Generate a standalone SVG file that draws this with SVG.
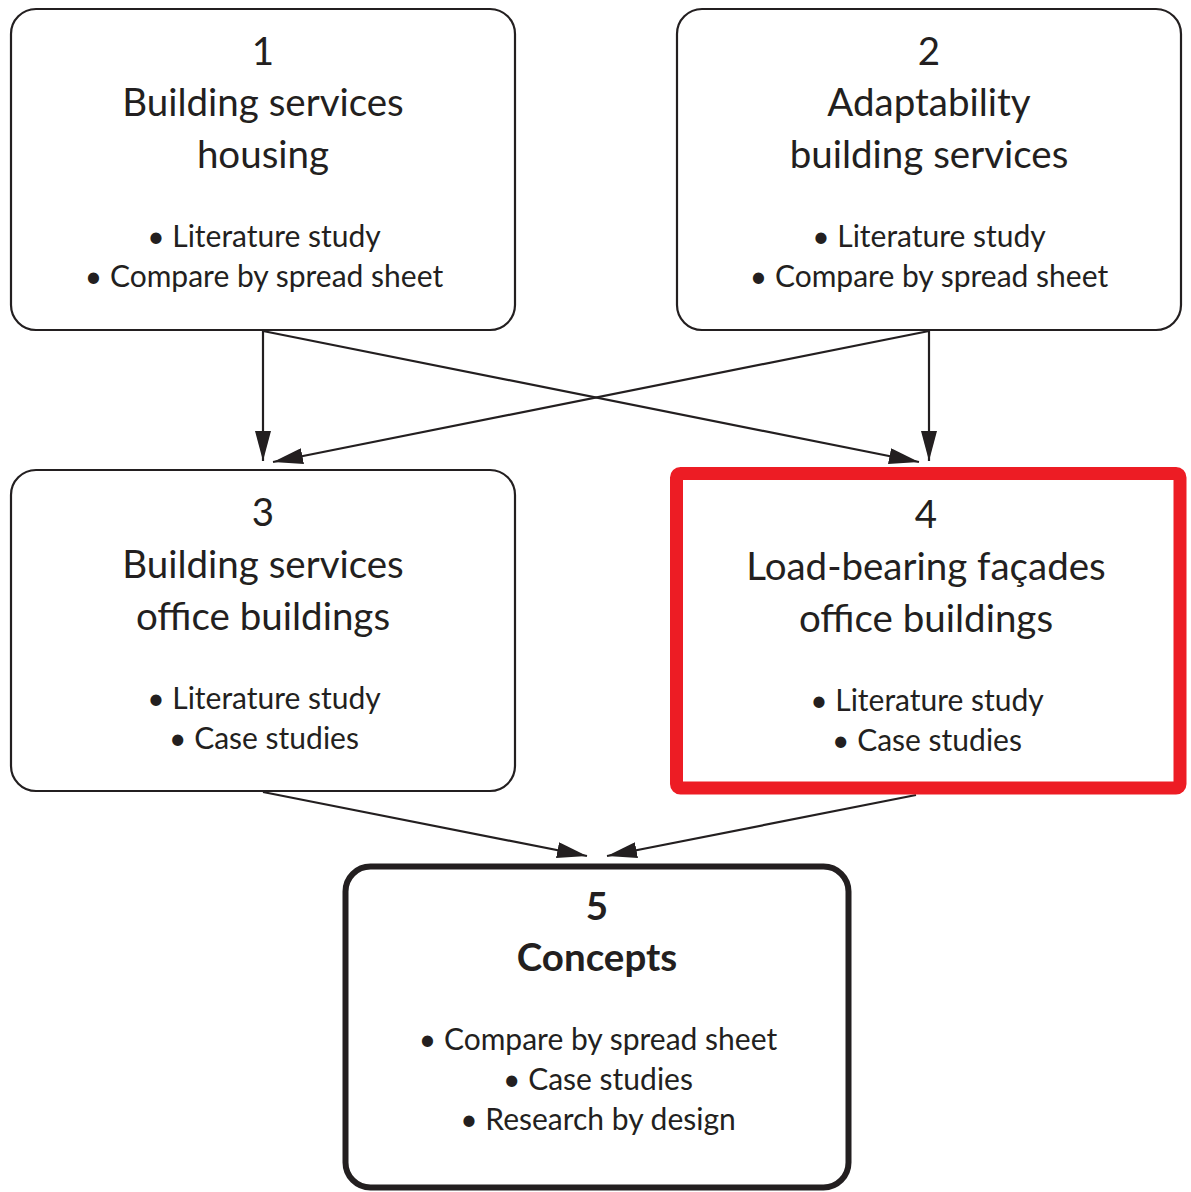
<svg xmlns="http://www.w3.org/2000/svg" width="1191" height="1192" viewBox="0 0 1191 1192">
<style>
.box{fill:#fff;stroke:#231f20;stroke-width:2.2}
.t{font-family:Lato,"Open Sans",sans-serif;font-size:38.5px;fill:#231f20;text-anchor:middle}
.b{font-family:Lato,"Open Sans",sans-serif;font-size:30px;fill:#231f20;text-anchor:middle}
.bold{font-weight:bold}
.c{stroke:#231f20;stroke-width:2.2;fill:none}
</style>
<defs>
<marker id="ah" viewBox="0 0 30 16" refX="30" refY="8" markerWidth="30" markerHeight="16" markerUnits="userSpaceOnUse" orient="auto">
<path d="M0,0 L30,8 L0,16 Z" fill="#231f20"/>
</marker>
</defs>
<rect width="1191" height="1192" fill="#fff"/>
<g id="connectors">
<line class="c" x1="263" y1="331" x2="263" y2="461" marker-end="url(#ah)"/>
<line class="c" x1="263" y1="331" x2="919" y2="462" marker-end="url(#ah)"/>
<line class="c" x1="929" y1="331" x2="929" y2="461" marker-end="url(#ah)"/>
<line class="c" x1="929" y1="331" x2="273" y2="462" marker-end="url(#ah)"/>
<line class="c" x1="263" y1="792" x2="587" y2="856" marker-end="url(#ah)"/>
<line class="c" x1="916" y1="795" x2="607" y2="856" marker-end="url(#ah)"/>
</g>
<g id="node1">
<rect class="box" x="11" y="9" width="504" height="321" rx="25"/>
<text class="t" x="263" y="65">1</text>
<text class="t" x="263" y="116">Building services</text>
<text class="t" x="263" y="168">housing</text>
<text class="b" x="264" y="247">• Literature study</text>
<text class="b" x="264" y="287">• Compare by spread sheet</text>
</g>
<g id="node2">
<rect class="box" x="677" y="9" width="504" height="321" rx="25"/>
<text class="t" x="929" y="65">2</text>
<text class="t" x="929" y="116">Adaptability</text>
<text class="t" x="929" y="168">building services</text>
<text class="b" x="929" y="247">• Literature study</text>
<text class="b" x="929" y="287">• Compare by spread sheet</text>
</g>
<g id="node3">
<rect class="box" x="11" y="470" width="504" height="321" rx="25"/>
<text class="t" x="263" y="526">3</text>
<text class="t" x="263" y="578">Building services</text>
<text class="t" x="263" y="630">office buildings</text>
<text class="b" x="264" y="709">• Literature study</text>
<text class="b" x="264" y="749">• Case studies</text>
</g>
<g id="node4">
<rect x="676.5" y="473.5" width="503.5" height="314.5" rx="4" fill="#fff" stroke="#ed1c24" stroke-width="13"/>
<text class="t" x="926" y="528">4</text>
<text class="t" x="926" y="580">Load-bearing façades</text>
<text class="t" x="926" y="632">office buildings</text>
<text class="b" x="927" y="711">• Literature study</text>
<text class="b" x="927" y="751">• Case studies</text>
</g>
<g id="node5">
<rect x="345.5" y="866.5" width="503" height="321" rx="25" fill="#fff" stroke="#231f20" stroke-width="6"/>
<text class="t bold" x="597" y="920">5</text>
<text class="t bold" x="597" y="971">Concepts</text>
<text class="b" x="598" y="1050">• Compare by spread sheet</text>
<text class="b" x="598" y="1090">• Case studies</text>
<text class="b" x="598" y="1130">• Research by design</text>
</g>
</svg>
